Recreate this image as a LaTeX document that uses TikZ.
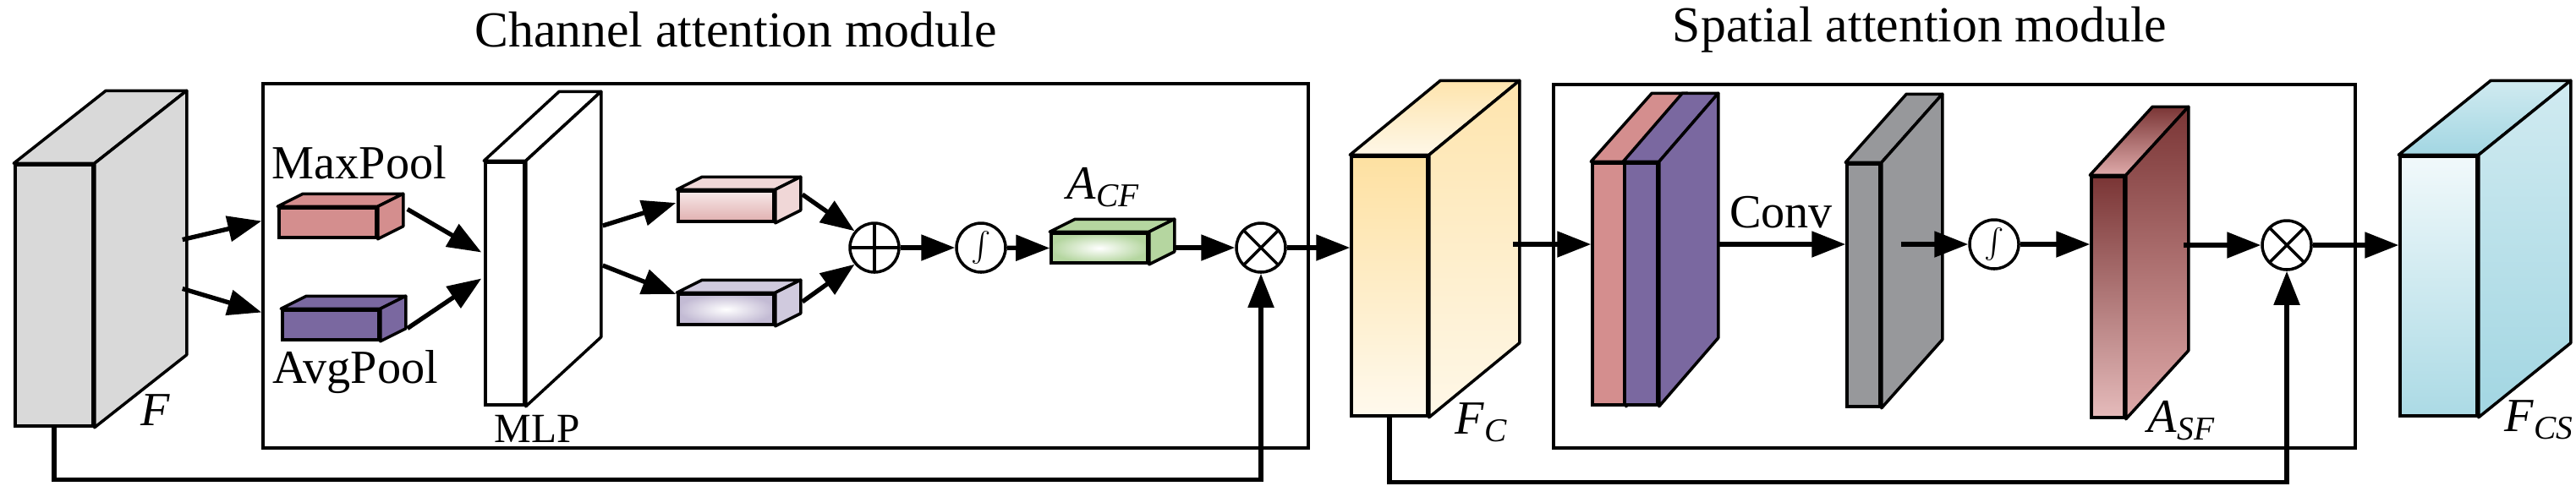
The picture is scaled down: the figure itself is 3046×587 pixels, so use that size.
\documentclass[tikz,border=0pt]{standalone}
\usepackage{fontspec}
\setmainfont{Liberation Serif}
\usetikzlibrary{calc,arrows.meta}

\definecolor{pinkc}{HTML}{D48E8E}
\definecolor{purplec}{HTML}{7A68A0}
\definecolor{grayc}{HTML}{97989B}
\definecolor{yellowc}{HTML}{FDD98A}
\definecolor{bluec}{HTML}{A2D6E2}
\definecolor{greenc}{HTML}{B5D6A0}
\definecolor{redc}{HTML}{C45F5F}
\definecolor{darkredc}{HTML}{7A3535}

% one slab: front face node, then its top and side faces
\newcommand{\slab}[6]{%
  \node[slab,#3,#4] (#1) at #2 {};
  \draw[slab edge,#6] (#1.north west) -- ++#5 -- ($(#1.north east)+#5$) -- (#1.north east) -- cycle;
  \draw[slab edge,#6] (#1.north east) -- ($(#1.north east)+#5$) -- ($(#1.south east)+#5$) -- (#1.south east) -- cycle;
}
\newcommand{\lbl}[2]{\textit{#1}\textsubscript{\textit{#2}}}

\begin{document}
\begin{tikzpicture}[
		x=0.1mm, y=-0.1mm,
		every node/.style={font=\fontsize{16}{18}\selectfont},
		slab/.style={
			rectangle,
			draw,
			line width=1pt,
			inner sep=0pt
		},
		slab edge/.style={
			draw=black,
			line width=1pt,
			line join=round
		},
		op/.style={
			circle,
			draw,
			line width=1pt,
			minimum size=5.8mm,
			inner sep=0pt
		},
		arr/.style={
			line width=1.5pt,
			-{Triangle[length=4mm,width=3mm]}
		},
		frame/.style={
			draw=black,
			line width=1.1pt
		}]

		\useasboundingbox (0,0) rectangle (3046,587);

		%titles
		\node[font=\fontsize{17}{19}\selectfont] (t1) at (870,35) {Channel attention module};
		\node[font=\fontsize{17}{19}\selectfont] (t2) at (2270,35) {Spatial attention module};

		\draw[frame] (311,99) rectangle (1547,530);
		\draw[frame] (1837,100) rectangle (2785,530);

		%channel part
		\slab{F}{(64,349.5)}{minimum width=9.2mm,minimum height=30.9mm}{fill=black!15}{(109,-86)}{fill=black!15}
		\slab{MaxPool}{(387.5,263.5)}{minimum width=11.5mm,minimum height=3.5mm}{fill=pinkc}{(30,-15)}{fill=pinkc}
		\slab{AvgPool}{(391,384.5)}{minimum width=11.4mm,minimum height=3.5mm}{fill=purplec}{(30,-15)}{fill=purplec}
		\slab{MLP}{(597,335.5)}{minimum width=4.6mm,minimum height=28.7mm}{fill=white}{(89,-82)}{fill=white}
		\slab{Mo}{(858.5,244)}{minimum width=11.3mm,minimum height=3.6mm}{top color=pinkc!20,bottom color=pinkc!70}{(30,-15)}{fill=pinkc!35}
		\slab{Ao}{(858.5,366)}{minimum width=11.3mm,minimum height=3.6mm}{inner color=white,outer color=purplec!45}{(30,-15)}{fill=purplec!35}
		\slab{ACF}{(1300,293.5)}{minimum width=11.4mm,minimum height=3.5mm}{inner color=white,outer color=greenc}{(30,-15)}{fill=greenc}

		\node[op, path picture={
			\draw (path picture bounding box.north) -- (path picture bounding box.south);
			\draw (path picture bounding box.west) -- (path picture bounding box.east);}] (plus) at (1034,293) {};
		\node[op] (sg1) at (1160,293) {\Large$\int$};
		\node[op, path picture={
			\draw (path picture bounding box.north west) -- (path picture bounding box.south east);
			\draw (path picture bounding box.north east) -- (path picture bounding box.south west);}] (ot1) at (1491,293) {};

		\node (lF) at (184,485) {\textit{F}};
		\node (lMax) at (425,192) {MaxPool};
		\node (lAvg) at (420,440) {AvgPool};
		\node[font=\fontsize{14}{16}\selectfont] (lMLP) at (635,507) {MLP};
		\node (lACF) at (1305,222) {\lbl{A}{CF}};

		\draw[arr] ($(F.east)+(104,-66)$) -- ($(MaxPool.west)+(-19,-2)$);
		\draw[arr] ($(F.east)+(104,-8)$) -- ($(AvgPool.west)+(-23,-15)$);
		\draw[arr] ($(MaxPool.east)+(35,-16)$) -- ($(MLP.west)+(-3,-37)$);
		\draw[arr] ($(AvgPool.east)+(32,4)$) -- ($(MLP.west)+(-3,-6)$);
		\draw[arr] ($(MLP.east)+(91,-68.5)$) -- ($(Mo.west)+(-1,-4)$);
		\draw[arr] ($(MLP.east)+(91,-21.5)$) -- ($(Ao.west)+(-1,-18)$);
		\draw[arr] ($(Mo.east)+(32,-14)$) -- (plus.140);
		\draw[arr] ($(Ao.east)+(32,-9)$) -- (plus.220);
		\draw[arr] (plus) -- (sg1);
		\draw[arr] (sg1) -- (ACF.west);
		\draw[arr] ($(ACF.east)+(31,-0.5)$) -- (ot1);
		\draw[arr] (F.south) -- ++(0,62) -| (ot1);

		%spatial part
		\slab{FC}{(1643,338.5)}{minimum width=9mm,minimum height=30.7mm}{top color=yellowc!80,bottom color=yellowc!15}{(107,-88)}{top color=yellowc!70,bottom color=yellowc!20}
		\draw[arr] (ot1) -- ($(FC.west)+(0,-45.5)$);
		\slab{CatA}{(1902,336)}{minimum width=3.8mm,minimum height=28.6mm}{fill=pinkc}{(72,-81)}{fill=pinkc}
		\slab{CatB}{(1940.5,336)}{minimum width=3.9mm,minimum height=28.6mm}{fill=purplec}{(70,-81)}{fill=purplec}
		\slab{Gray}{(2203.5,337.5)}{minimum width=3.9mm,minimum height=28.7mm}{fill=grayc}{(72,-81)}{fill=grayc}
		\slab{ASF}{(2492.5,351.5)}{minimum width=3.9mm,minimum height=28.5mm}{top color=darkredc,middle color=redc,bottom color=pinkc!60}{(74,-81)}{top color=darkredc,middle color=redc,bottom color=pinkc!75}
		\slab{FCS}{(2883.5,338.5)}{minimum width=9.1mm,minimum height=30.7mm}{top color=bluec!15,bottom color=bluec!90}{(109,-88)}{top color=bluec!50,bottom color=bluec}

		\node[op] (sg2) at (2358,289) {\Large$\int$};
		\node[op, path picture={
			\draw (path picture bounding box.north west) -- (path picture bounding box.south east);
			\draw (path picture bounding box.north east) -- (path picture bounding box.south west);}] (ot2) at (2704,290) {};

		\node (lFC) at (1752,500) {\lbl{F}{C}};
		\node (lConv) at (2106,251) {Conv};
		\node (lASF) at (2580,498) {\lbl{A}{SF}};
		\node (lFCS) at (3003,497) {\lbl{F}{CS}};

		\draw[arr] ($(FC.east)+(99,-49.5)$) -- ($(CatA.west)+(0,-47)$);
		\draw[arr] ($(CatB.east)+(69,-47)$) -- ($(Gray.west)+(0,-48.5)$);
		\draw[arr] ($(Gray.east)+(23,-48.5)$) -- (sg2);
		\draw[arr] (sg2) -- ($(ASF.west)+(0,-62.5)$);
		\draw[arr] ($(ASF.east)+(68,-61.5)$) -- (ot2);
		\draw[arr] (ot2) -- ($(FCS.west)+(0,-48.5)$);
		\draw[arr] (FC.south) -- ++(0,77) -| (ot2);

	\end{tikzpicture}
\end{document}
